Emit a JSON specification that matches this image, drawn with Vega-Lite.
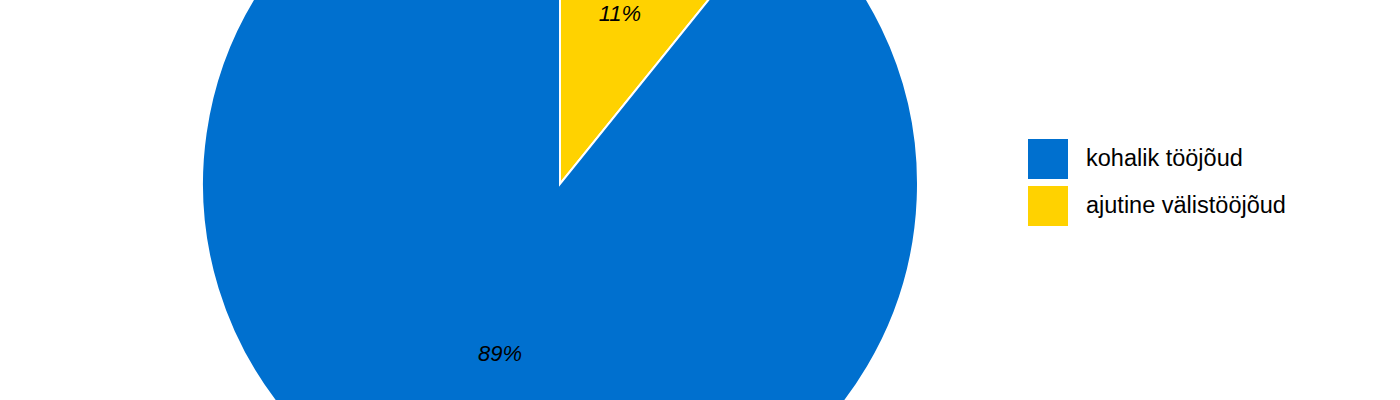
{
  "$schema": "https://vega.github.io/schema/vega-lite/v6.json",
  "width": 1120,
  "height": 368,
  "padding": {"left": 0, "top": 0, "right": 280, "bottom": 32},
  "autosize": {"type": "none"},
  "background": "white",
  "view": {"stroke": null},
  "data": {"values": [
    {"category": "ajutine välistööjõud", "value": 10.8, "label": "11%", "ord": 1},
    {"category": "kohalik tööjõud", "value": 89.2, "label": "89%", "ord": 2}
  ]},
  "encoding": {
    "theta": {"field": "value", "type": "quantitative", "stack": true},
    "order": {"field": "ord", "type": "quantitative", "sort": "ascending"}
  },
  "layer": [
    {
      "mark": {"type": "arc", "outerRadius": 358, "stroke": "white", "strokeWidth": 2},
      "encoding": {
        "color": {
          "field": "category",
          "type": "nominal",
          "scale": {"domain": ["kohalik tööjõud", "ajutine välistööjõud"], "range": ["#0070CF", "#FFD200"]},
          "legend": {
            "title": null,
            "orient": "none",
            "legendX": 1028,
            "legendY": 139,
            "symbolType": "square",
            "symbolSize": 1600,
            "symbolStrokeWidth": 0,
            "symbolOpacity": 1,
            "labelFont": "Liberation Sans",
            "labelFontSize": 23.5,
            "labelColor": "#000000",
            "labelOffset": 18,
            "rowPadding": 7,
            "labelLimit": 400
          }
        }
      }
    },
    {
      "mark": {"type": "text", "radius": 180, "font": "Liberation Sans", "fontSize": 22, "fontStyle": "italic", "color": "#000000"},
      "encoding": {
        "text": {"field": "label", "type": "nominal"}
      }
    }
  ]
}
